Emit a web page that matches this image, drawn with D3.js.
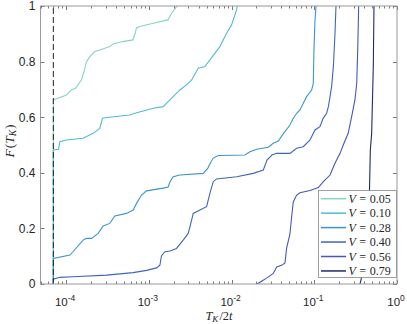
<!DOCTYPE html>
<html>
<head>
<meta charset="utf-8">
<script src="https://cdn.jsdelivr.net/npm/d3@7"></script>
<style>
  body { margin: 0; background: #fff; }
  svg { display: block; }
</style>
</head>
<body>
<script>
const vLabels = ["0.05", "0.10", "0.28", "0.40", "0.56", "0.79"];

const curveV005 = [[7.0e-5,0],[7.0e-5,0.662],[8.1e-5,0.669],[1.01e-4,0.680],[1.16e-4,0.698],[1.31e-4,0.705],[1.53e-4,0.734],[1.64e-4,0.763],[1.76e-4,0.799],[1.92e-4,0.817],[2.22e-4,0.836],[2.55e-4,0.842],[3.37e-4,0.854],[3.70e-4,0.863],[4.85e-4,0.872],[6.40e-4,0.878],[6.84e-4,0.903],[7.10e-4,0.921],[7.78e-4,0.926],[1.13e-3,0.938],[1.70e-3,0.950],[1.88e-3,0.974],[2.16e-3,0.998],[2.21e-3,1.0]];

const curveV010 = [[7.0e-5,0],[7.0e-5,0.482],[8.1e-5,0.485],[8.4e-5,0.512],[1.01e-4,0.518],[1.60e-4,0.524],[2.12e-4,0.542],[2.55e-4,0.560],[2.75e-4,0.596],[3.08e-4,0.599],[5.89e-4,0.608],[7.10e-4,0.616],[1.13e-3,0.632],[1.49e-3,0.638],[1.80e-3,0.662],[2.37e-3,0.698],[2.86e-3,0.716],[3.29e-3,0.734],[3.95e-3,0.776],[4.76e-3,0.782],[5.47e-3,0.806],[7.22e-3,0.854],[8.71e-3,0.902],[1.00e-2,0.932],[1.15e-2,0.986],[1.17e-2,1.0]];

const curveV028 = [[7.0e-5,0],[7.0e-5,0.092],[1.11e-4,0.104],[1.21e-4,0.116],[1.60e-4,0.158],[1.76e-4,0.164],[2.03e-4,0.164],[2.44e-4,0.182],[2.80e-4,0.209],[3.37e-4,0.218],[3.88e-4,0.245],[5.37e-4,0.254],[6.46e-4,0.266],[7.10e-4,0.290],[8.16e-4,0.320],[9.37e-4,0.335],[1.49e-3,0.345],[1.71e-3,0.349],[1.80e-3,0.368],[1.97e-3,0.386],[2.37e-3,0.392],[4.54e-3,0.398],[5.17e-3,0.417],[5.47e-3,0.432],[6.00e-3,0.453],[6.90e-3,0.462],[1.45e-2,0.464],[1.67e-2,0.476],[2.01e-2,0.485],[2.78e-2,0.492],[3.19e-2,0.506],[3.67e-2,0.514],[4.21e-2,0.540],[5.08e-2,0.572],[5.57e-2,0.596],[6.12e-2,0.614],[6.71e-2,0.626],[7.36e-2,0.650],[8.09e-2,0.674],[9.29e-2,0.698],[9.73e-2,0.722],[9.91e-2,0.842],[0.102,0.950],[0.105,1.0]];

const curveV040 = [[7.0e-5,0],[7.0e-5,0.017],[8.4e-5,0.024],[1.21e-4,0.026],[3.08e-4,0.032],[6.46e-4,0.041],[9.37e-4,0.049],[1.24e-3,0.058],[1.36e-3,0.068],[1.42e-3,0.101],[1.56e-3,0.116],[1.80e-3,0.119],[2.16e-3,0.128],[2.60e-3,0.158],[2.99e-3,0.182],[3.29e-3,0.230],[3.44e-3,0.254],[4.14e-3,0.266],[4.99e-3,0.278],[5.47e-3,0.326],[6.00e-3,0.368],[6.59e-3,0.378],[1.15e-2,0.386],[1.83e-2,0.398],[2.42e-2,0.410],[2.68e-2,0.446],[3.08e-2,0.464],[3.51e-2,0.470],[5.08e-2,0.470],[6.12e-2,0.488],[7.36e-2,0.494],[8.87e-2,0.518],[0.102,0.554],[0.117,0.566],[0.128,0.596],[0.141,0.614],[0.148,0.638],[0.155,0.674],[0.162,0.710],[0.170,0.782],[0.178,0.902],[0.183,1.0]];

const curveV056 = [[2.03e-2,0],[2.33e-2,0.011],[2.65e-2,0.021],[3.19e-2,0.038],[3.51e-2,0.061],[4.03e-2,0.067],[4.42e-2,0.076],[4.63e-2,0.129],[5.08e-2,0.180],[5.32e-2,0.241],[5.57e-2,0.295],[6.12e-2,0.320],[6.71e-2,0.328],[8.87e-2,0.336],[0.112,0.347],[0.128,0.367],[0.155,0.392],[0.170,0.421],[0.186,0.446],[0.205,0.470],[0.224,0.500],[0.257,0.542],[0.283,0.602],[0.310,0.662],[0.326,0.722],[0.335,0.842],[0.344,1.0]];

const curveV079 = [[0.357,0],[0.374,0.026],[0.388,0.058],[0.410,0.122],[0.430,0.182],[0.450,0.242],[0.465,0.338],[0.476,0.482],[0.494,0.542],[0.517,0.782],[0.527,1.0]];

const curves = [curveV005, curveV010, curveV028, curveV040, curveV056, curveV079];
const colors = ["#86d4c0", "#4fbcd2", "#3a96d0", "#3d66bb", "#4858b4", "#1c2a6a"];

const cutoff = 7e-5;
const xTicks = [1e-4, 1e-3, 1e-2, 1e-1, 1];
const xTickExp = ["-4", "-3", "-2", "-1", "0"];
const yTicks = [0, 0.2, 0.4, 0.6, 0.8, 1];
const yTickLabels = ["0", "0.2", "0.4", "0.6", "0.8", "1"];

const w = 407, h = 324;
const pLeft = 40.5, pRight = 397, pTop = 6, pBottom = 284;

const svg = d3.select("body").append("svg")
  .attr("width", w)
  .attr("height", h);

const x = d3.scaleLog().domain([Math.pow(10, -4.31), 1]).range([pLeft, pRight]);
const y = d3.scaleLinear().domain([0, 1]).range([pBottom, pTop]);

svg.append("clipPath").attr("id", "clip")
  .append("rect")
  .attr("x", pLeft).attr("y", pTop)
  .attr("width", pRight - pLeft).attr("height", pBottom - pTop);

const line = d3.line().x(d => x(d[0])).y(d => y(d[1]));

const plot = svg.append("g").attr("clip-path", "url(#clip)");
curves.forEach((c, i) => {
  plot.append("path")
    .attr("d", line(c))
    .attr("fill", "none")
    .attr("stroke", colors[i])
    .attr("stroke-width", 1.1);
});

// cutoff line
plot.append("line")
  .attr("x1", x(cutoff)).attr("x2", x(cutoff))
  .attr("y1", y(0)).attr("y2", y(1))
  .attr("stroke", "#222")
  .attr("stroke-width", 1)
  .attr("stroke-dasharray", "6,3");

// ticks (inward, all four sides)
const minor = [];
for (let e = -5; e < 0; e++) {
  for (let k = 2; k < 10; k++) {
    const v = k * Math.pow(10, e);
    if (v >= x.domain()[0] && v <= 1) minor.push(v);
  }
}
const tickG = svg.append("g").attr("stroke", "#555").attr("stroke-width", 0.8);
minor.forEach(v => {
  const px = Math.round(x(v)) + 0.5;
  tickG.append("line").attr("x1", px).attr("x2", px).attr("y1", pBottom).attr("y2", pBottom - 2.5);
  tickG.append("line").attr("x1", px).attr("x2", px).attr("y1", pTop).attr("y2", pTop + 2.5);
});
xTicks.forEach(v => {
  const px = Math.round(x(v)) + 0.5;
  tickG.append("line").attr("x1", px).attr("x2", px).attr("y1", pBottom).attr("y2", pBottom - 4);
  tickG.append("line").attr("x1", px).attr("x2", px).attr("y1", pTop).attr("y2", pTop + 4);
});
yTicks.forEach(v => {
  const py = Math.round(y(v)) + 0.5;
  tickG.append("line").attr("x1", pLeft).attr("x2", pLeft + 4).attr("y1", py).attr("y2", py);
  tickG.append("line").attr("x1", pRight).attr("x2", pRight - 4).attr("y1", py).attr("y2", py);
});

svg.append("rect")
  .attr("x", pLeft).attr("y", pTop)
  .attr("width", pRight - pLeft).attr("height", pBottom - pTop)
  .attr("fill", "none")
  .attr("stroke", "#999")
  .attr("stroke-width", 1);

// tick labels
const labelFont = "'Liberation Sans', Arial, sans-serif";
yTicks.forEach((v, i) => {
  svg.append("text")
    .attr("x", 35.5)
    .attr("y", y(v) + 4.3)
    .attr("text-anchor", "end")
    .attr("font-family", labelFont)
    .attr("font-size", 12)
    .attr("fill", "#262626")
    .text(yTickLabels[i]);
});
xTicks.forEach((v, i) => {
  const t = svg.append("text")
    .attr("x", x(v) - 1)
    .attr("y", 305.5)
    .attr("text-anchor", "middle")
    .attr("font-family", labelFont)
    .attr("font-size", 11.5)
    .attr("fill", "#262626");
  t.append("tspan").text("10");
  t.append("tspan").attr("dy", -5).attr("font-size", 8.5).text(xTickExp[i]);
});

// axis labels
const mathFont = "'Liberation Serif', 'DejaVu Serif', serif";
const xl = svg.append("text")
  .attr("x", 219)
  .attr("y", 319.5)
  .attr("text-anchor", "middle")
  .attr("font-family", mathFont)
  .attr("font-size", 12.5)
  .attr("fill", "#262626");
xl.append("tspan").attr("font-style", "italic").text("T");
xl.append("tspan").attr("font-style", "italic").attr("font-size", 9).attr("dy", 2.5).text("K");
xl.append("tspan").attr("dy", -2.5).attr("dx", 1).text("/2");
xl.append("tspan").attr("font-style", "italic").text("t");

const yl = svg.append("text")
  .attr("transform", "translate(13.5,141) rotate(-90)")
  .attr("text-anchor", "middle")
  .attr("font-family", mathFont)
  .attr("font-size", 13.5)
  .attr("fill", "#262626");
yl.append("tspan").attr("font-style", "italic").text("F");
yl.append("tspan").attr("dx", 1).text("(");
yl.append("tspan").attr("font-style", "italic").text("T");
yl.append("tspan").attr("font-style", "italic").attr("font-size", 9.5).attr("dy", 2.5).text("K");
yl.append("tspan").attr("dy", -2.5).attr("dx", 1).text(")");

// legend
const legend = svg.append("g").attr("id", "legend");
legend.append("rect")
  .attr("x", 318.5).attr("y", 190.5)
  .attr("width", 78).attr("height", 87)
  .attr("fill", "#fff")
  .attr("stroke", "#888")
  .attr("stroke-width", 0.8);
vLabels.forEach((v, i) => {
  const ly = 198.7 + i * 14.45;
  legend.append("line")
    .attr("x1", 321).attr("x2", 346)
    .attr("y1", ly).attr("y2", ly)
    .attr("stroke", colors[i])
    .attr("stroke-width", 1.5);
  const t = legend.append("text")
    .attr("x", 348.5)
    .attr("y", ly + 4)
    .attr("font-family", mathFont)
    .attr("font-size", 12)
    .attr("fill", "#262626");
  t.append("tspan").attr("font-style", "italic").text("V");
  t.append("tspan").attr("dx", 3.5).text("=");
  t.append("tspan").attr("dx", 3.5).text(v);
});
</script>
</body>
</html>
